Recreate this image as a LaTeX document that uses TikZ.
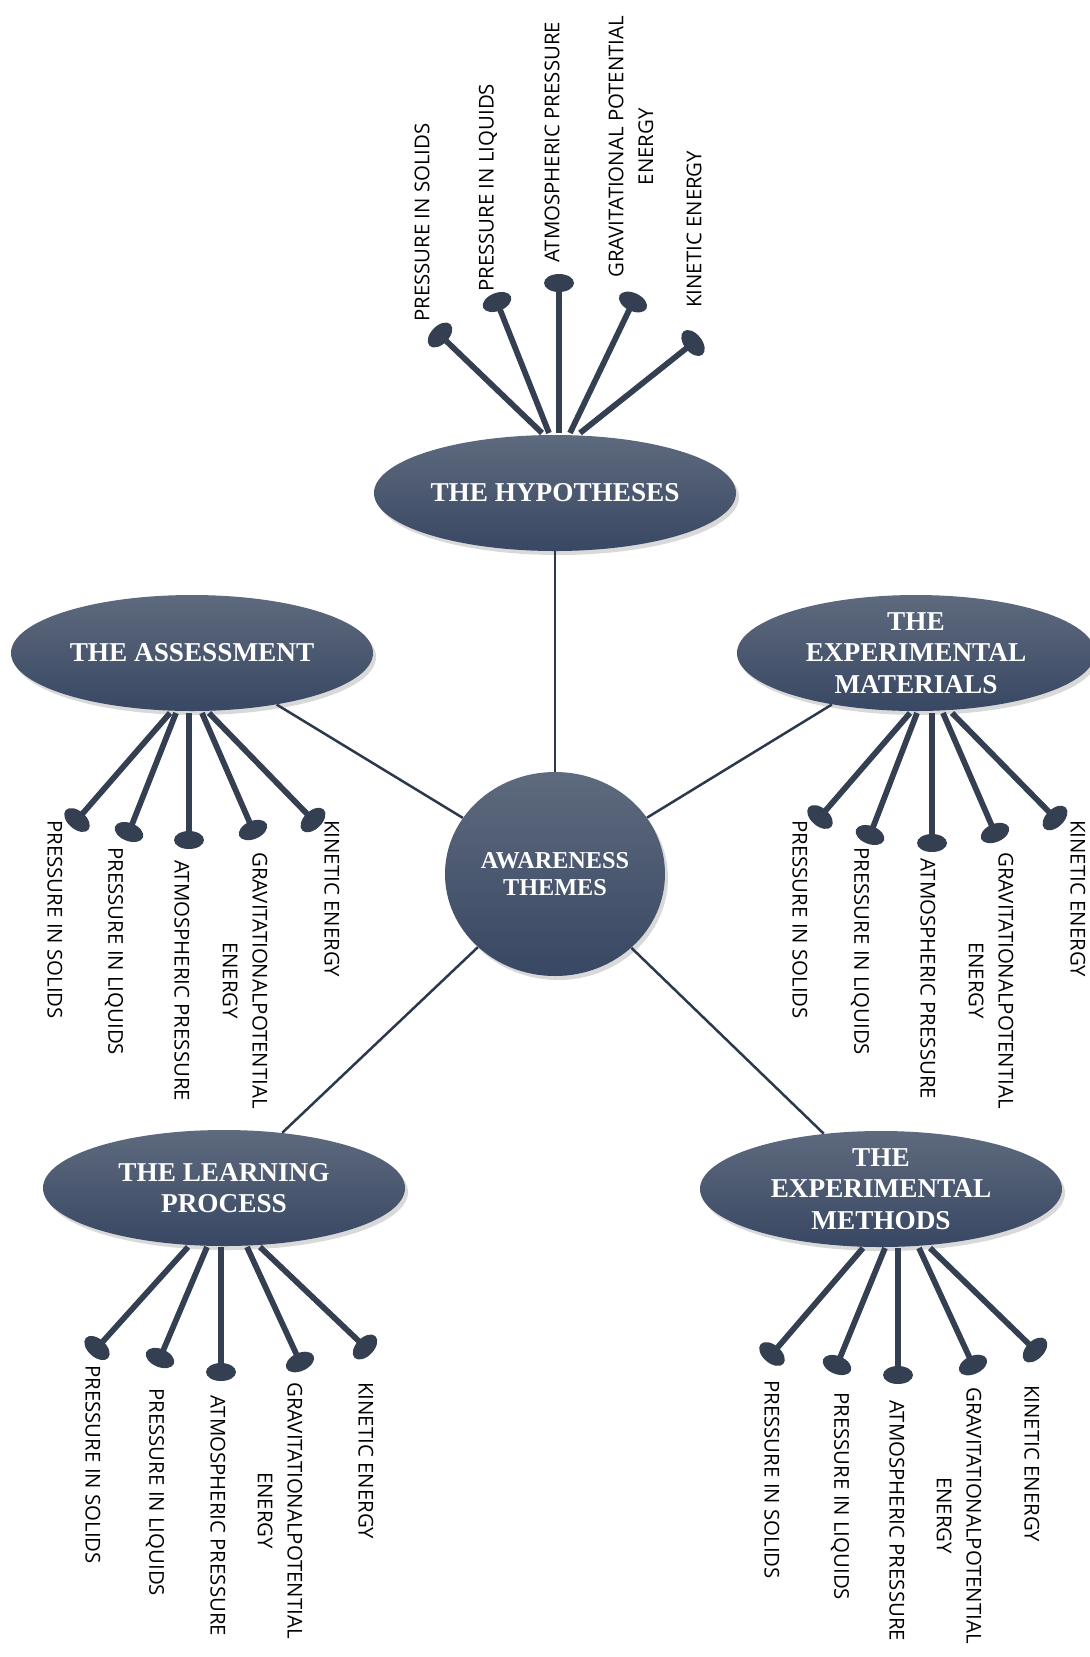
\documentclass[tikz,border=0pt]{standalone}
\usepackage{fontspec}
\setmainfont{Liberation Serif}
\newfontfamily\leaffont{Open Sans}
\usetikzlibrary{shapes.geometric,shadows}
\definecolor{slatetop}{RGB}{94,106,125}
\definecolor{slatebot}{RGB}{56,71,99}
\definecolor{pinink}{RGB}{52,63,82}
\definecolor{linkink}{RGB}{44,56,76}
\tikzset{
  theme/.style={ellipse, minimum width=72.4mm, minimum height=23.2mm, inner sep=0pt,
    top color=slatetop, bottom color=slatebot,
    drop shadow={opacity=0.3, shadow xshift=0.6mm, shadow yshift=-0.8mm}},
  title/.style={text=white, font=\fontsize{15.5}{18}\selectfont\bfseries, align=center},
  link/.style={draw=linkink, line width=0.5mm},
  stem/.style={draw=pinink, line width=1.15mm},
  knob/.style={ellipse, fill=pinink, minimum width=3.6mm, minimum height=6mm,
    inner sep=0pt, sloped, pos=1},
  leaf/.style={font=\leaffont\fontsize{11.6}{17}\selectfont, align=center, inner sep=0pt}
}
\begin{document}
\begin{tikzpicture}[x=0.2mm,y=-0.2mm]
\useasboundingbox (0,0) rectangle (1090,1657);
\path
(555,874)  node[theme, minimum width=44mm, minimum height=40.8mm] (aw) {}
           node[title, font=\fontsize{13.8}{15.5}\selectfont\bfseries] (aw-t) {AWARENESS\\THEMES}
(555,493)  node[theme] (hyp) {} node[title] (hyp-t) {THE HYPOTHESES}
(192,653)  node[theme] (ass) {} node[title] (ass-t) {THE ASSESSMENT}
(916,653)  node[theme, minimum width=71.6mm] (mat) {} node[title] (mat-t) {THE\\EXPERIMENTAL\\MATERIALS}
(224,1188) node[theme] (lrn) {} node[title] (lrn-t) {THE LEARNING\\PROCESS}
(881,1189) node[theme] (met) {} node[title] (met-t) {THE\\EXPERIMENTAL\\METHODS};

\draw[link] (hyp)--(aw);
\draw[link] (ass)--(aw);
\draw[link] (mat)--(aw);
\draw[link] (lrn)--(aw);
\draw[link] (met)--(aw);

% pins above the hypotheses
\begin{scope}[shift={(559,433)}]
\foreach \i/\bx/\hx/\hy/\lx/\ly/\txt in {
  1/-17/-119/-98/-137/-111/{PRESSURE IN SOLIDS},
  2/-10/-62/-131/-71/-141/{PRESSURE IN LIQUIDS},
  3/0/0/-150/-7/-170/{ATMOSPHERIC PRESSURE},
  4/11/74/-131/72/-155/{GRAVITATIONAL POTENTIAL\\ENERGY},
  5/21/134/-90/135/-125/{KINETIC ENERGY}}
{
  \coordinate (hyp-b\i) at (\bx,0);
  \coordinate (hyp-k\i) at (\hx,\hy);
  \draw[stem] (hyp-b\i)--(hyp-k\i) node[knob] (hyp-h\i) {};
  \node[leaf, rotate=90, anchor=west] (hyp-l\i) at (\lx,\ly) {\txt};
}
\end{scope}

% pins below the assessment
\begin{scope}[shift={(189,713)}]
\foreach \i/\bx/\hx/\hy/\lx/\ly/\txt in {
  1/-19/-112/107/-134/107/{PRESSURE IN SOLIDS},
  2/-13/-60/119/-75/134/{PRESSURE IN LIQUIDS},
  3/0/0/127/-7/147/{ATMOSPHERIC PRESSURE},
  4/13/64/117/56/139/{GRAVITATIONALPOTENTIAL\\ENERGY},
  5/20/124/107/143/107/{KINETIC ENERGY}}
{
  \coordinate (ass-b\i) at (\bx,0);
  \coordinate (ass-k\i) at (\hx,\hy);
  \draw[stem] (ass-b\i)--(ass-k\i) node[knob] (ass-h\i) {};
  \node[leaf, rotate=-90, anchor=west] (ass-l\i) at (\lx,\ly) {\txt};
}
\end{scope}

% pins below the materials
\begin{scope}[shift={(932,713)}]
\foreach \i/\bx/\hx/\hy/\lx/\ly/\txt in {
  1/-22/-112/104/-132/107/{PRESSURE IN SOLIDS},
  2/-15/-62/122/-72/134/{PRESSURE IN LIQUIDS},
  3/0/0/130/-4/145/{ATMOSPHERIC PRESSURE},
  4/11/63/120/59/139/{GRAVITATIONALPOTENTIAL\\ENERGY},
  5/20/123/105/146/107/{KINETIC ENERGY}}
{
  \coordinate (mat-b\i) at (\bx,0);
  \coordinate (mat-k\i) at (\hx,\hy);
  \draw[stem] (mat-b\i)--(mat-k\i) node[knob] (mat-h\i) {};
  \node[leaf, rotate=-90, anchor=west] (mat-l\i) at (\lx,\ly) {\txt};
}
\end{scope}

% pins below the learning process
\begin{scope}[shift={(221,1247)}]
\foreach \i/\bx/\hx/\hy/\lx/\ly/\txt in {
  1/-33/-124/101/-128/118/{PRESSURE IN SOLIDS},
  2/-14/-61/111/-66/141/{PRESSURE IN LIQUIDS},
  3/0/0/125/-3/148/{ATMOSPHERIC PRESSURE},
  4/26/79/115/59/135/{GRAVITATIONALPOTENTIAL\\ENERGY},
  5/39/144/100/145/135/{KINETIC ENERGY}}
{
  \coordinate (lrn-b\i) at (\bx,0);
  \coordinate (lrn-k\i) at (\hx,\hy);
  \draw[stem] (lrn-b\i)--(lrn-k\i) node[knob] (lrn-h\i) {};
  \node[leaf, rotate=-90, anchor=west] (lrn-l\i) at (\lx,\ly) {\txt};
}
\end{scope}

% pins below the methods
\begin{scope}[shift={(898,1248)}]
\foreach \i/\bx/\hx/\hy/\lx/\ly/\txt in {
  1/-35/-126/106/-126/132/{PRESSURE IN SOLIDS},
  2/-13/-61/117/-58/144/{PRESSURE IN LIQUIDS},
  3/0/0/127/-1/152/{ATMOSPHERIC PRESSURE},
  4/21/75/117/61/139/{GRAVITATIONALPOTENTIAL\\ENERGY},
  5/32/137/102/134/137/{KINETIC ENERGY}}
{
  \coordinate (met-b\i) at (\bx,0);
  \coordinate (met-k\i) at (\hx,\hy);
  \draw[stem] (met-b\i)--(met-k\i) node[knob] (met-h\i) {};
  \node[leaf, rotate=-90, anchor=west] (met-l\i) at (\lx,\ly) {\txt};
}
\end{scope}
\end{tikzpicture}
\end{document}
